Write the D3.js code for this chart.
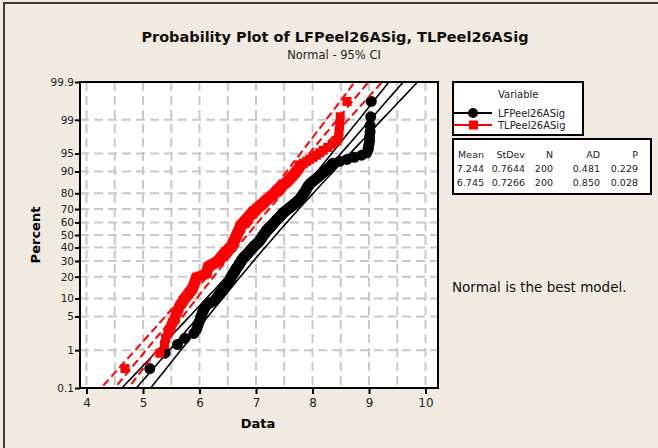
<!DOCTYPE html>
<html>
<head>
<meta charset="utf-8">
<script src="https://cdn.jsdelivr.net/npm/d3@7"></script>
<style>
  body { margin: 0; background: #f1eae1; }
  svg { display: block; font-family: "DejaVu Sans", sans-serif; }
</style>
</head>
<body>
<script>
const lfValues = [
  5.12, 5.39, 5.61, 5.74, 5.90, 5.95, 5.97, 5.99, 6.01, 6.02,
  6.04, 6.05, 6.07, 6.08, 6.10, 6.13, 6.17, 6.22, 6.27, 6.29,
  6.31, 6.33, 6.34, 6.36, 6.38, 6.39, 6.41, 6.42, 6.44, 6.45,
  6.47, 6.48, 6.50, 6.51, 6.52, 6.53, 6.54, 6.55, 6.55, 6.56,
  6.57, 6.58, 6.59, 6.60, 6.61, 6.62, 6.63, 6.63, 6.64, 6.65,
  6.66, 6.67, 6.68, 6.69, 6.70, 6.70, 6.71, 6.72, 6.73, 6.74,
  6.74, 6.75, 6.76, 6.77, 6.78, 6.79, 6.80, 6.81, 6.82, 6.84,
  6.85, 6.86, 6.87, 6.88, 6.89, 6.90, 6.91, 6.92, 6.93, 6.94,
  6.95, 6.96, 6.97, 6.98, 7.00, 7.01, 7.02, 7.03, 7.04, 7.05,
  7.06, 7.07, 7.08, 7.08, 7.09, 7.10, 7.11, 7.11, 7.12, 7.13,
  7.14, 7.14, 7.15, 7.16, 7.17, 7.17, 7.18, 7.19, 7.20, 7.21,
  7.22, 7.23, 7.24, 7.26, 7.27, 7.28, 7.29, 7.30, 7.31, 7.32,
  7.33, 7.34, 7.35, 7.36, 7.37, 7.38, 7.39, 7.41, 7.42, 7.43,
  7.44, 7.45, 7.46, 7.47, 7.48, 7.49, 7.51, 7.52, 7.54, 7.56,
  7.57, 7.59, 7.60, 7.62, 7.64, 7.65, 7.67, 7.68, 7.70, 7.72,
  7.73, 7.75, 7.76, 7.78, 7.79, 7.80, 7.81, 7.82, 7.83, 7.84,
  7.85, 7.86, 7.87, 7.88, 7.89, 7.90, 7.91, 7.92, 7.93, 7.95,
  7.96, 7.99, 8.01, 8.04, 8.06, 8.09, 8.11, 8.14, 8.16, 8.19,
  8.22, 8.25, 8.28, 8.31, 8.34, 8.36, 8.48, 8.61, 8.74, 8.87,
  8.96, 8.98, 8.99, 9.00, 9.01, 9.01, 9.02, 9.02, 9.03, 9.04
];
const tlValues = [
  4.68, 5.30, 5.38, 5.40, 5.44, 5.48, 5.50, 5.52, 5.55, 5.57,
  5.58, 5.60, 5.61, 5.63, 5.64, 5.66, 5.68, 5.70, 5.71, 5.73,
  5.75, 5.77, 5.79, 5.81, 5.82, 5.84, 5.86, 5.87, 5.88, 5.89,
  5.89, 5.90, 5.91, 5.91, 5.92, 5.93, 5.93, 5.94, 5.94, 5.95,
  6.00, 6.05, 6.09, 6.12, 6.13, 6.13, 6.13, 6.14, 6.14, 6.14,
  6.15, 6.15, 6.16, 6.19, 6.21, 6.23, 6.26, 6.28, 6.30, 6.32,
  6.34, 6.35, 6.36, 6.37, 6.38, 6.39, 6.40, 6.41, 6.42, 6.43,
  6.44, 6.45, 6.46, 6.47, 6.48, 6.50, 6.51, 6.52, 6.53, 6.55,
  6.56, 6.57, 6.57, 6.58, 6.58, 6.59, 6.59, 6.60, 6.60, 6.61,
  6.61, 6.62, 6.62, 6.63, 6.63, 6.64, 6.64, 6.65, 6.65, 6.66,
  6.66, 6.67, 6.67, 6.68, 6.68, 6.69, 6.69, 6.70, 6.70, 6.71,
  6.71, 6.72, 6.72, 6.72, 6.73, 6.74, 6.75, 6.76, 6.77, 6.78,
  6.79, 6.80, 6.81, 6.82, 6.83, 6.84, 6.85, 6.86, 6.87, 6.88,
  6.89, 6.90, 6.91, 6.92, 6.93, 6.94, 6.95, 6.97, 6.98, 7.00,
  7.01, 7.03, 7.04, 7.06, 7.07, 7.09, 7.10, 7.12, 7.13, 7.15,
  7.16, 7.18, 7.19, 7.21, 7.23, 7.24, 7.26, 7.28, 7.30, 7.32,
  7.33, 7.35, 7.36, 7.37, 7.39, 7.41, 7.43, 7.45, 7.47, 7.49,
  7.52, 7.54, 7.56, 7.58, 7.60, 7.62, 7.64, 7.66, 7.68, 7.70,
  7.72, 7.74, 7.76, 7.77, 7.78, 7.84, 7.90, 7.95, 8.01, 8.07,
  8.13, 8.19, 8.27, 8.35, 8.43, 8.46, 8.47, 8.48, 8.49, 8.61
];

const seriesNames = ["LFPeel26ASig", "TLPeel26ASig"];
const statHeaders = ["Mean", "StDev", "N", "AD", "P"];
const lfStats = ["7.244", "0.7644", "200", "0.481", "0.229"];
const tlStats = ["6.745", "0.7266", "200", "0.850", "0.028"];
const yTickPercents = [0.1, 1, 5, 10, 20, 30, 40, 50, 60, 70, 80, 90, 95, 99, 99.9];
const xTicks = [4, 5, 6, 7, 8, 9, 10];

const width = 658, height = 448;
const plot = { left: 80, right: 438, top: 82, bottom: 388 };

// inverse normal cdf (Acklam)
function probit(p) {
  const a = [-39.69683028665376, 220.9460984245205, -275.9285104469687, 138.357751867269, -30.66479806614716, 2.506628277459239];
  const b = [-54.47609879822406, 161.5858368580409, -155.6989798598866, 66.80131188771972, -13.28068155288572];
  const c = [-0.007784894002430293, -0.3223964580411365, -2.400758277161838, -2.549732539343734, 4.374664141464968, 2.938163982698783];
  const d = [0.007784695709041462, 0.3224671290700398, 2.445134137142996, 3.754408661907416];
  const pl = 0.02425;
  let q, r;
  if (p < pl) {
    q = Math.sqrt(-2 * Math.log(p));
    return (((((c[0] * q + c[1]) * q + c[2]) * q + c[3]) * q + c[4]) * q + c[5]) /
      ((((d[0] * q + d[1]) * q + d[2]) * q + d[3]) * q + 1);
  }
  if (p > 1 - pl) {
    q = Math.sqrt(-2 * Math.log(1 - p));
    return -(((((c[0] * q + c[1]) * q + c[2]) * q + c[3]) * q + c[4]) * q + c[5]) /
      ((((d[0] * q + d[1]) * q + d[2]) * q + d[3]) * q + 1);
  }
  q = p - 0.5;
  r = q * q;
  return (((((a[0] * r + a[1]) * r + a[2]) * r + a[3]) * r + a[4]) * r + a[5]) * q /
    (((((b[0] * r + b[1]) * r + b[2]) * r + b[3]) * r + b[4]) * r + 1);
}

const xScale = d3.scaleLinear().domain([4, 10]).range([86.5, 425.5]);
const yScale = d3.scaleLinear()
  .domain([probit(0.001), probit(0.999)])
  .range([plot.bottom, plot.top]);

const svg = d3.select("body").append("svg")
  .attr("width", width)
  .attr("height", height);

// outer frame
svg.append("rect")
  .attr("x", 4).attr("y", 3)
  .attr("width", width + 20).attr("height", height + 20)
  .attr("fill", "#f1eae1")
  .attr("stroke", "#3a3a3a")
  .attr("stroke-width", 2);

// title
svg.append("text")
  .attr("x", 335).attr("y", 42)
  .attr("text-anchor", "middle")
  .attr("font-size", 14.5)
  .attr("font-weight", "bold")
  .attr("fill", "#111")
  .text("Probability Plot of LFPeel26ASig, TLPeel26ASig");
svg.append("text")
  .attr("x", 334).attr("y", 59)
  .attr("text-anchor", "middle")
  .attr("font-size", 11.5)
  .attr("fill", "#222")
  .text("Normal - 95% CI");

// plot background
svg.append("rect")
  .attr("x", plot.left).attr("y", plot.top)
  .attr("width", plot.right - plot.left).attr("height", plot.bottom - plot.top)
  .attr("fill", "white");

svg.append("clipPath").attr("id", "clip")
  .append("rect")
  .attr("x", plot.left).attr("y", plot.top)
  .attr("width", plot.right - plot.left).attr("height", plot.bottom - plot.top);

// grid
const grid = svg.append("g")
  .attr("stroke", "#c8c8c8")
  .attr("stroke-width", 2)
  .attr("stroke-dasharray", "9,5");
grid.selectAll("line.v")
  .data(d3.range(4, 10.01, 0.5))
  .join("line")
  .attr("class", "v")
  .attr("x1", (d) => xScale(d)).attr("x2", (d) => xScale(d))
  .attr("y1", plot.top).attr("y2", plot.bottom);
grid.selectAll("line.h")
  .data(yTickPercents.slice(1, -1))
  .join("line")
  .attr("class", "h")
  .attr("x1", plot.left).attr("x2", plot.right)
  .attr("y1", (d) => yScale(probit(d / 100)))
  .attr("y2", (d) => yScale(probit(d / 100)));

// series
function drawSeries(values, mean, sd, color, marker, dashed) {
  const n = values.length;
  const pts = values.map((v, i) => ({ x: v, z: probit((i + 1 - 0.3) / (n + 0.4)) }));
  const g = svg.append("g").attr("clip-path", "url(#clip)");

  if (marker === "circle") {
    g.selectAll("circle")
      .data(pts)
      .join("circle")
      .attr("cx", (d) => xScale(d.x))
      .attr("cy", (d) => yScale(d.z))
      .attr("r", 5.5)
      .attr("fill", color);
  } else {
    g.selectAll("rect")
      .data(pts)
      .join("rect")
      .attr("x", (d) => xScale(d.x) - 4.5)
      .attr("y", (d) => yScale(d.z) - 4.5)
      .attr("width", 9).attr("height", 9)
      .attr("fill", color);
  }

  // fitted line and 95% CI
  const zs = d3.range(-3.4, 3.41, 0.05);
  const band = (k) => zs.map((z) => {
    const se = sd * Math.sqrt((1 + z * z / 2) / n);
    return { x: mean + z * sd + k * 1.96 * se, z: z };
  });
  const line = d3.line().x((d) => xScale(d.x)).y((d) => yScale(d.z));
  g.selectAll("path")
    .data([band(-1), band(0), band(1)])
    .join("path")
    .attr("d", line)
    .attr("fill", "none")
    .attr("stroke", color)
    .attr("stroke-width", dashed ? 2 : 1.6)
    .attr("stroke-dasharray", dashed ? "8,4" : null);
}

drawSeries(lfValues, +lfStats[0], +lfStats[1], "black", "circle", false);
drawSeries(tlValues, +tlStats[0], +tlStats[1], "red", "square", true);

// frame
svg.append("rect")
  .attr("x", plot.left).attr("y", plot.top)
  .attr("width", plot.right - plot.left).attr("height", plot.bottom - plot.top)
  .attr("fill", "none")
  .attr("stroke", "black")
  .attr("stroke-width", 2);

// axes
const xAxis = d3.axisBottom(xScale).tickValues(xTicks).tickSize(6).tickFormat(d3.format("d"));
svg.append("g")
  .attr("transform", `translate(0,${plot.bottom})`)
  .call(xAxis)
  .call((g) => g.select(".domain").remove())
  .call((g) => g.selectAll(".tick line").attr("stroke-width", 2))
  .call((g) => g.selectAll(".tick text")
    .attr("font-size", 12)
    .attr("font-family", "DejaVu Sans")
    .attr("fill", "#222")
    .attr("dy", "0.85em"));

const yAxis = d3.axisLeft(yScale)
  .tickValues(yTickPercents.map((p) => probit(p / 100)))
  .tickSize(5)
  .tickFormat((d, i) => yTickPercents[i]);
svg.append("g")
  .attr("transform", `translate(${plot.left},0)`)
  .call(yAxis)
  .call((g) => g.select(".domain").remove())
  .call((g) => g.selectAll(".tick line").attr("stroke-width", 2))
  .call((g) => g.selectAll(".tick text")
    .attr("font-size", 10.5)
    .attr("font-family", "DejaVu Sans")
    .attr("fill", "#222")
    .attr("x", -6));

// axis titles
svg.append("text")
  .attr("x", 258).attr("y", 428)
  .attr("text-anchor", "middle")
  .attr("font-size", 13)
  .attr("font-weight", "bold")
  .text("Data");
svg.append("text")
  .attr("transform", "translate(40,235)rotate(-90)")
  .attr("text-anchor", "middle")
  .attr("font-size", 13)
  .attr("font-weight", "bold")
  .text("Percent");

// legend
const legend = svg.append("g");
legend.append("rect")
  .attr("x", 453).attr("y", 82).attr("width", 130).attr("height", 53)
  .attr("fill", "white").attr("stroke", "black").attr("stroke-width", 2);
legend.append("text")
  .attr("x", 498).attr("y", 98)
  .attr("font-size", 10).attr("fill", "#222")
  .text("Variable");
const legendRows = legend.selectAll("g.row")
  .data(seriesNames)
  .join("g")
  .attr("class", "row")
  .attr("transform", (d, i) => `translate(0,${113 + i * 12})`);
legendRows.append("line")
  .attr("x1", 454).attr("x2", 492)
  .attr("stroke", (d, i) => (i === 0 ? "black" : "red"))
  .attr("stroke-width", 2);
legendRows.filter((d, i) => i === 0).append("circle")
  .attr("cx", 473).attr("r", 5).attr("fill", "black");
legendRows.filter((d, i) => i === 1).append("rect")
  .attr("x", 469).attr("y", -4.5).attr("width", 9).attr("height", 9).attr("fill", "red");
legendRows.append("text")
  .attr("x", 498).attr("y", 4)
  .attr("font-size", 10).attr("fill", "#222")
  .text((d) => d);

// stats table
const table = svg.append("g");
table.append("rect")
  .attr("x", 453).attr("y", 139).attr("width", 198).attr("height", 55)
  .attr("fill", "white").attr("stroke", "black").attr("stroke-width", 2);
const colRight = [484, 525, 553, 600, 638];
[statHeaders, lfStats, tlStats].forEach((row, r) => {
  table.selectAll(null)
    .data(row)
    .join("text")
    .attr("x", (d, i) => colRight[i])
    .attr("y", 158 + r * 14)
    .attr("text-anchor", "end")
    .attr("font-size", 9.5)
    .attr("fill", "#222")
    .text((d) => d);
});

svg.append("text")
  .attr("x", 452).attr("y", 292)
  .attr("font-size", 13.5)
  .attr("fill", "#111")
  .text("Normal is the best model.");
</script>
</body>
</html>
